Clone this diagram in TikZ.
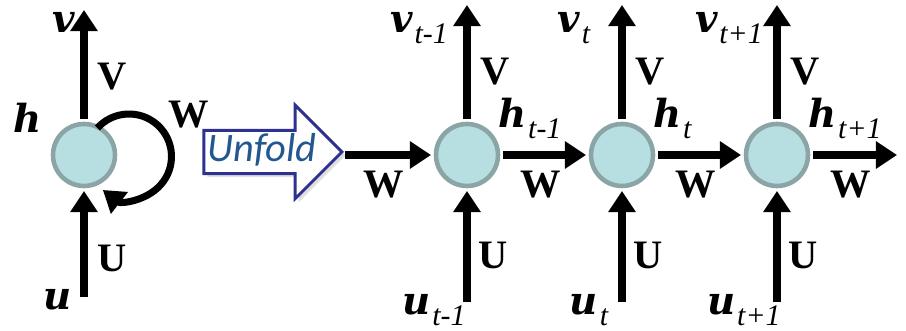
\documentclass[tikz,border=0pt]{standalone}
\usepackage{fontspec}
\setmainfont{Liberation Serif}
\newfontfamily\unfoldfont{Carlito}
\newfontfamily\varfont{DejaVu Serif}
\definecolor{cellfill}{HTML}{B7DEE1}
\definecolor{cellline}{HTML}{8BA5A6}
\definecolor{unfoldline}{HTML}{2E3190}
\definecolor{unfoldtext}{HTML}{24578F}
\usetikzlibrary{arrows.meta, shapes.arrows, positioning, shadows}
\newcommand{\tsub}[1]{\raisebox{-6pt}{\fontsize{17}{17}\selectfont\rmfamily\mdseries\itshape\kern1pt#1}}

\begin{document}
\begin{tikzpicture}[
    node distance=1.66cm,
    cell/.style={circle, draw=cellline, fill=cellfill, line width=2.6pt,
                 minimum size=1.24cm, outer sep=1mm},
    arr/.style={-{Triangle[width=15pt, length=12pt]}, line width=4.5pt},
    var/.style={inner sep=0pt, font=\fontsize{22}{22}\selectfont\varfont\bfseries\itshape},
    mat/.style={inner sep=0pt, font=\fontsize{23}{23}\selectfont\bfseries},
    unfold/.style={single arrow, draw=unfoldline, fill=white, line width=1.7pt,
                   minimum height=2.76cm, single arrow head extend=0.5cm,
                   text height=15pt, text depth=4pt, inner ysep=2pt, inner xsep=1pt,
                   drop shadow={opacity=0.25, shadow xshift=0.07cm, shadow yshift=-0.07cm},
                   text=unfoldtext, font=\fontsize{23}{23}\selectfont\unfoldfont\itshape}
  ]
  \useasboundingbox (0,0) rectangle (18.12,6.62);

  % folded network
  \node[cell] (rnn) at (1.68,3.52) {};
  \coordinate[above=2.18cm of rnn] (v);
  \coordinate[below=2.12cm of rnn] (u);
  \coordinate (loopc) at ([shift={(0.9,-0.03)}]rnn.center);
  \draw[arr] (rnn) -- (v) node[mat, pos=0.39, right=0.2cm] {V};
  \draw[arr] (u) -- (rnn) node[mat, pos=0.36, right=0.2cm] {U};
  \draw[arr, line width=4pt] ([shift={(138:0.85)}]loopc)
    arc[start angle=138, end angle=-128, radius=0.85];
  \node[var, anchor=base] (vl) at ([shift={(-0.4,2.44)}]rnn.center) {v};
  \node[var, anchor=base east] (hl) at ([shift={(-0.84,0.44)}]rnn.center) {h};
  \node[mat, anchor=base west] (wl) at ([shift={(1.68,0.54)}]rnn.center) {W};
  \node[var, anchor=base east] (ul) at ([shift={(-0.24,-3.1)}]rnn.center) {u};

  % unfolded network
  \node[cell] (c1) at (9.34,3.52) {};
  \node[cell, right=of c1] (c2) {};
  \node[cell, right=of c2] (c3) {};
  \coordinate[left=1.72cm of c1] (hin);
  \coordinate[right=1.68cm of c3] (hout);

  \node[unfold, anchor=tip] (unf) at ([shift={(-0.02,0.06)}]hin) {Unfold};

  \draw[arr] (hin) -- (c1) node[mat, pos=0.45, below=0.24cm] {W};
  \draw[arr] (c1) -- (c2) node[mat, pos=0.45, below=0.24cm] {W};
  \draw[arr] (c2) -- (c3) node[mat, pos=0.45, below=0.24cm] {W};
  \draw[arr] (c3) -- (hout) node[mat, pos=0.45, below=0.24cm] {W};

  \foreach \c/\s in {c1/t-1, c2/t, c3/t+1} {
    \coordinate[above=2.28cm of \c] (v\c);
    \coordinate[below=2.22cm of \c] (u\c);
    \draw[arr] (\c) -- (v\c) node[mat, pos=0.42, right=0.2cm] {V};
    \draw[arr] (u\c) -- (\c) node[mat, pos=0.42, right=0.16cm] {U};
    \node[var, anchor=base] (vl\c) at ([shift={(-0.96,2.44)}]\c.center) {v\tsub{\s}};
    \node[var, anchor=base west] (hl\c) at ([shift={(0.62,0.54)}]\c.center) {h\tsub{\s}};
    \node[var, anchor=base] (ul\c) at ([shift={(-0.66,-3.2)}]\c.center) {u\tsub{\s}};
  }
\end{tikzpicture}
\end{document}
